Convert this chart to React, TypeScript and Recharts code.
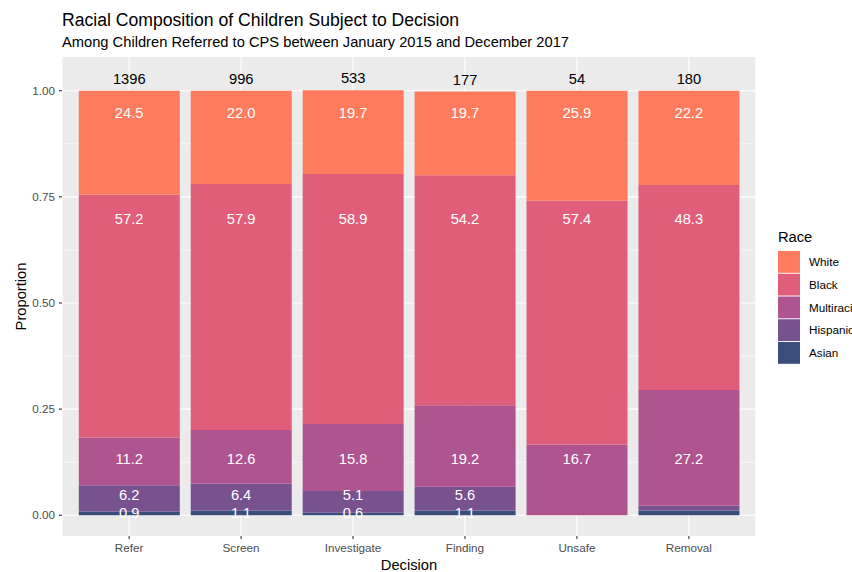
import React from 'react';
import { ComposedChart, Bar, Line, XAxis, YAxis, CartesianGrid, LabelList } from 'recharts';

// ---- data ----
const categories = ['Refer', 'Screen', 'Investigate', 'Finding', 'Unsafe', 'Removal'];
const counts = [1396, 996, 533, 177, 54, 180];
const whitePct = [24.5, 22.0, 19.7, 19.7, 25.9, 22.2];
const blackPct = [57.2, 57.9, 58.9, 54.2, 57.4, 48.3];
const multiracialPct = [11.2, 12.6, 15.8, 19.2, 16.7, 27.2];
const hispanicPct = [6.2, 6.4, 5.1, 5.6, 0, 1.2];
const asianPct = [0.9, 1.1, 0.6, 1.1, 0, 1.1];
// whether each segment's value is printed
const hispanicLabelShown = [true, true, true, true, false, false];
const asianLabelShown = [true, true, true, true, false, false];
// levels (proportion units) where segment labels are printed, per race
const races = ['White', 'Black', 'Multiracial', 'Hispanic', 'Asian'];
const labelLevels = [0.9475, 0.6978, 0.1326, 0.0478, 0.0066];
const yTicks = [0, 0.25, 0.5, 0.75, 1];
const yMinorTicks = [0.125, 0.375, 0.625, 0.875];
const yDomain = [-0.0488, 1.0794];

const raceColors: Record<string, string> = {
  White: '#FE7B5D',
  Black: '#E15E7B',
  Multiracial: '#B0548F',
  Hispanic: '#77528F',
  Asian: '#3A4E7E',
};

const pctByRace: Record<string, number[]> = {
  White: whitePct,
  Black: blackPct,
  Multiracial: multiracialPct,
  Hispanic: hispanicPct,
  Asian: asianPct,
};
const shownByRace: Record<string, boolean[]> = {
  White: categories.map(() => true),
  Black: categories.map(() => true),
  Multiracial: categories.map(() => true),
  Hispanic: hispanicLabelShown,
  Asian: asianLabelShown,
};

const data = categories.map((c, i) => {
  const row: any = { decision: c, total: counts[i] };
  races.forEach((r, k) => {
    const pct = pctByRace[r][i];
    row[r] = pct / 100;
    const show = shownByRace[r][i] && pct > 0;
    row['pos_' + r] = show ? labelLevels[k] : null;
    row['lbl_' + r] = show ? pct.toFixed(1) : null;
  });
  return row;
});

const FONT = '"Liberation Sans", Arial, Helvetica, sans-serif';

const segLabel = (props: any) => {
  const { x, y, value } = props;
  if (value == null || x == null || y == null) return null;
  return (
    <text x={x} y={y} dy="0.355em" textAnchor="middle" fill="#FFFFFF" fontSize={14.7} fontFamily={FONT}>
      {value}
    </text>
  );
};

const countLabel = (props: any) => {
  const { x, y, width, value } = props;
  if (value == null) return null;
  return (
    <text x={x + width / 2} y={y - 7} textAnchor="middle" fill="#000000" fontSize={14.7} fontFamily={FONT}>
      {value}
    </text>
  );
};

const stackOrder = ['Asian', 'Hispanic', 'Multiracial', 'Black', 'White'];

export default function App() {
  return (
    <div style={{ position: 'absolute', left: 0, top: 0, width: 852, height: 572, background: '#FFFFFF', fontFamily: FONT }}>
      <ComposedChart
        width={852}
        height={572}
        data={data}
        margin={{ top: 57, right: 96, bottom: 0, left: 0 }}
        barCategoryGap="5%"
      >
        <CartesianGrid fill="#EBEBEB" fillOpacity={1} stroke="#FFFFFF" strokeWidth={0.55} horizontalValues={yMinorTicks} vertical={false} />
        <CartesianGrid stroke="#FFFFFF" strokeWidth={1.1} horizontalValues={yTicks} />
        <XAxis
          dataKey="decision"
          type="category"
          interval={0}
          padding={{ left: 11.2, right: 11.2 }}
          height={36}
          axisLine={false}
          tickLine={{ stroke: '#333333', strokeWidth: 1.1 }}
          tickSize={3}
          tickMargin={5}
          tick={{ fontSize: 11.7, fill: '#4D4D4D', fontFamily: FONT }}
        />
        <YAxis
          type="number"
          domain={yDomain}
          allowDataOverflow
          ticks={yTicks}
          width={62}
          axisLine={false}
          tickLine={{ stroke: '#333333', strokeWidth: 1.1 }}
          tickSize={3}
          tickMargin={4}
          tickFormatter={(v: number) => v.toFixed(2)}
          tick={{ fontSize: 11.7, fill: '#4D4D4D', fontFamily: FONT }}
        />
        {stackOrder.map((r) => (
          <Bar key={r} dataKey={r} stackId="s" fill={raceColors[r]} isAnimationActive={false}>
            {r === 'White' ? <LabelList dataKey="total" content={countLabel} /> : null}
          </Bar>
        ))}
        {races.map((r) => (
          <Line
            key={'l' + r}
            dataKey={'pos_' + r}
            stroke="none"
            dot={false}
            activeDot={false}
            legendType="none"
            isAnimationActive={false}
          >
            <LabelList dataKey={'lbl_' + r} content={segLabel} />
          </Line>
        ))}
      </ComposedChart>
      <svg width={852} height={572} style={{ position: 'absolute', left: 0, top: 0, pointerEvents: 'none' }} fontFamily={FONT}>
        <text x={62} y={25.5} fontSize={17.6} fill="#000000">Racial Composition of Children Subject to Decision</text>
        <text x={62} y={47.3} fontSize={14.7} fill="#000000">Among Children Referred to CPS between January 2015 and December 2017</text>
        <text x={409} y={569.7} fontSize={14.7} fill="#000000" textAnchor="middle">Decision</text>
        <text transform="translate(25.5,296.5) rotate(-90)" fontSize={14.7} fill="#000000" textAnchor="middle">Proportion</text>
        <text x={778} y={242} fontSize={14.7} fill="#000000">Race</text>
        {races.map((r, i) => (
          <g key={'lg' + r}>
            <rect x={778} y={251 + i * 22.75} width={22} height={21.8} fill={raceColors[r]} />
            <text x={809} y={251 + i * 22.75 + 10.9 + 4.2} fontSize={11.7} fill="#000000">{r}</text>
          </g>
        ))}
      </svg>
    </div>
  );
}
